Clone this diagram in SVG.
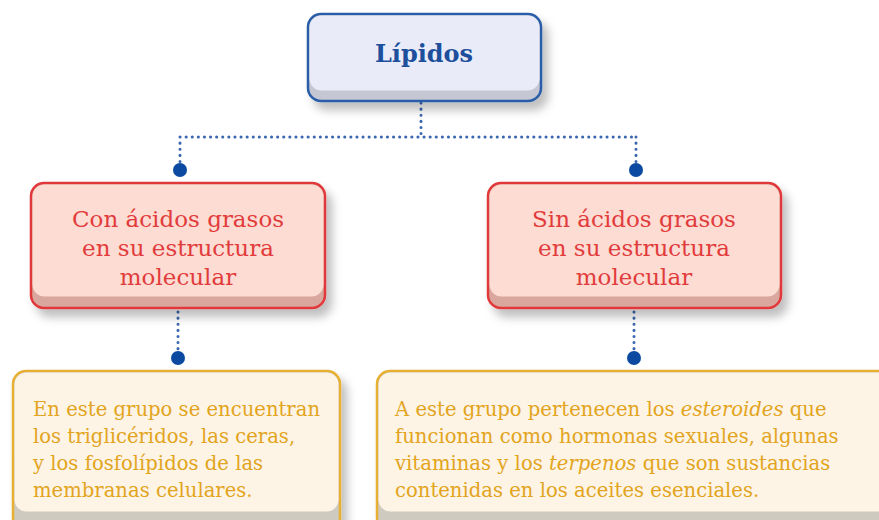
<svg xmlns="http://www.w3.org/2000/svg" width="879" height="520" viewBox="0 0 879 520">
<defs>
<filter id="sh" x="-10%" y="-10%" width="130%" height="140%">
<feDropShadow dx="6" dy="8" stdDeviation="5" flood-color="#000" flood-opacity="0.25"/>
</filter>
</defs>
<style>
.dot{stroke:#3a66b0;stroke-width:3;stroke-dasharray:0.1 6;stroke-linecap:round;fill:none}
.end{fill:#0b4aa0}
.t1{font-family:"DejaVu Serif","Liberation Serif",serif;font-weight:bold;font-size:24px;fill:#1d4f9c;text-anchor:middle}
.t2{font-family:"DejaVu Serif","Liberation Serif",serif;font-size:23px;fill:#e23b3b;text-anchor:middle}
.t3{font-family:"DejaVu Serif","Liberation Serif",serif;font-size:19.6px;fill:#e3a420}
.it{font-style:italic}
</style>
<rect width="879" height="520" fill="#ffffff"/>
<g id="connectors">
<path class="dot" d="M421 103 V137 M180 137 H636 M180 137 V165 M636 137 V165 M178 312 V352 M634 312 V352"/>
<circle class="end" cx="180" cy="170" r="7"/>
<circle class="end" cx="636" cy="170" r="7"/>
<circle class="end" cx="178" cy="358" r="7"/>
<circle class="end" cx="634" cy="358" r="7"/>
</g>
<g id="lipidos">
<g filter="url(#sh)">
<rect x="308" y="14" width="233" height="87" rx="13" fill="#c5c7d3" stroke="#2a5da8" stroke-width="2.5"/>
<rect x="309.5" y="15.5" width="230" height="75" rx="12" fill="#e9ecf8"/>
</g>
<text class="t1" x="424" y="62">Lípidos</text>
</g>
<g id="con">
<g filter="url(#sh)">
<rect x="31" y="183" width="294" height="125" rx="13" fill="#d9a79e" stroke="#e0393a" stroke-width="2.5"/>
<rect x="32.5" y="184.5" width="291" height="112" rx="12" fill="#fcdcd3"/>
</g>
<text class="t2"><tspan x="178" y="227">Con ácidos grasos</tspan><tspan x="178" y="256">en su estructura</tspan><tspan x="178" y="285">molecular</tspan></text>
</g>
<g id="sin">
<g filter="url(#sh)">
<rect x="488" y="183" width="293" height="125" rx="13" fill="#d9a79e" stroke="#e0393a" stroke-width="2.5"/>
<rect x="489.5" y="184.5" width="290" height="112" rx="12" fill="#fcdcd3"/>
</g>
<text class="t2"><tspan x="634" y="227">Sin ácidos grasos</tspan><tspan x="634" y="256">en su estructura</tspan><tspan x="634" y="285">molecular</tspan></text>
</g>
<g id="grupo1">
<g filter="url(#sh)">
<rect x="13" y="371" width="327" height="160" rx="13" fill="#cfcac0" stroke="#e8b030" stroke-width="2.5"/>
<rect x="14.5" y="372.5" width="324" height="139" rx="12" fill="#fdf4e6"/>
</g>
<text class="t3"><tspan x="33" y="416">En este grupo se encuentran</tspan><tspan x="33" y="443">los triglicéridos, las ceras,</tspan><tspan x="33" y="470">y los fosfolípidos de las</tspan><tspan x="33" y="497">membranas celulares.</tspan></text>
</g>
<g id="grupo2">
<g filter="url(#sh)">
<rect x="377" y="371" width="520" height="160" rx="13" fill="#cfcac0" stroke="#e8b030" stroke-width="2.5"/>
<rect x="378.5" y="372.5" width="517" height="139" rx="12" fill="#fdf4e6"/>
</g>
<text class="t3"><tspan x="395" y="416">A este grupo pertenecen los <tspan class="it">esteroides</tspan> que</tspan><tspan x="395" y="443">funcionan como hormonas sexuales, algunas</tspan><tspan x="395" y="470">vitaminas y los <tspan class="it">terpenos</tspan> que son sustancias</tspan><tspan x="395" y="497">contenidas en los aceites esenciales.</tspan></text>
</g>
</svg>
